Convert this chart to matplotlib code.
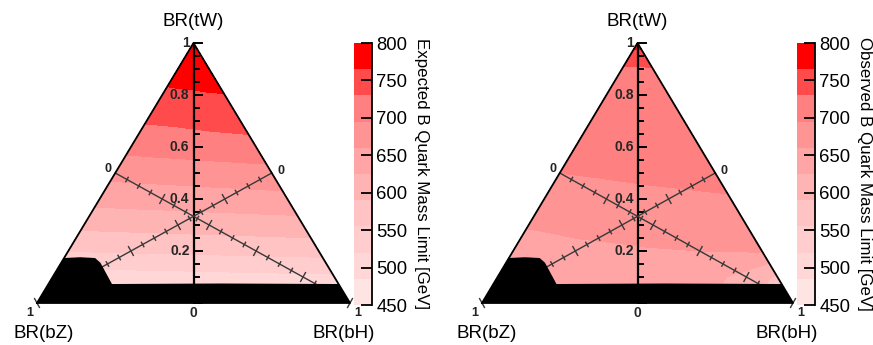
import numpy as np
import matplotlib
matplotlib.use("Agg")
import matplotlib.pyplot as plt
from matplotlib.tri import Triangulation

plt.rcParams["font.family"] = ["Liberation Sans", "DejaVu Sans"]

# ==== Limit tables (GeV) ====
# rows follow BR(tW); columns give the share of the rest that goes to bH
TW_ROWS = [0.0, 0.1, 0.2, 0.3, 0.4, 0.5, 0.6, 0.7, 0.8, 0.9, 1.0]
BH_SHARE = [0.0, 0.25, 0.5, 0.75, 1.0]

EXPECTED_LIMIT = [
    [452, 454, 456, 458, 460],
    [502, 505, 508, 511, 514],
    [556, 559, 562, 565, 568],
    [599, 602, 605, 608, 611],
    [637, 640, 643, 646, 649],
    [671, 674, 677, 680, 683],
    [706, 709, 712, 715, 718],
    [733, 735, 738, 741, 743],
    [758, 760, 761, 763, 764],
    [780, 780, 781, 782, 782],
    [800],
]
OBSERVED_LIMIT = [
    [628, 630, 632, 620, 560],
    [638, 641, 645, 640, 585],
    [648, 653, 657, 660, 661],
    [662, 668, 672, 677, 681],
    [682, 686, 689, 691, 693],
    [695, 697, 699, 701, 703],
    [702, 705, 706, 708, 710],
    [709, 711, 712, 714, 716],
    [716, 717, 718, 719, 721],
    [724, 725, 725, 726, 727],
    [778],
]

LIMIT_LEVELS = [450, 485, 520, 555, 590, 625, 660, 695, 730, 765, 800]
BAND_COLORS = ["#ffe4e4", "#ffd7d7", "#ffcdcd", "#ffc3c3", "#ffb4b4",
               "#ffa5a5", "#ff9494", "#ff8080", "#ff4b4b", "#ff0000"]
CBAR_TICKS = [450, 500, 550, 600, 650, 700, 750, 800]
TW_LABELS = [0.2, 0.4, 0.6, 0.8]

# region without a limit, as (BR(tW), BR(bH)) outline
EXCL_TW = [0.0, 0.173, 0.176, 0.173, 0.155, 0.073, 0.075, 0.073, 0.0]
EXCL_BH = [0.0, 0.0, 0.05, 0.099, 0.125, 0.203, 0.55, 0.927, 1.0]

FIG_W, FIG_H = 873, 345


def tern_xy(tw, bh):
    tw = np.asarray(tw, dtype=float)
    bh = np.asarray(bh, dtype=float)
    return bh - (1 - tw) / 2, tw


def limit_points(table):
    xs, ys, zs = [], [], []
    for tw, row in zip(TW_ROWS, table):
        shares = BH_SHARE if len(row) > 1 else [0.5]
        for s, v in zip(shares, row):
            x, y = tern_xy(tw, s * (1 - tw))
            xs.append(float(x))
            ys.append(float(y))
            zs.append(v)
    return np.array(xs), np.array(ys), np.array(zs)


def draw_median(ax, start, end, zero_off, one_off, sx, sy):
    (x0, y0), (x1, y1) = start, end
    dx, dy = (x1 - x0) * sx, (y1 - y0) * sy
    n = np.hypot(dx, dy)
    nx, ny = -dy / n, dx / n
    ax.plot([x0, x1], [y0, y1], color="#383838", lw=1.0, zorder=2)
    for k in range(1, 21):
        t = k / 20
        px, py = x0 + t * (x1 - x0), y0 + t * (y1 - y0)
        h = 5 if k % 4 == 0 else 2.5
        ax.plot([px - nx * h / sx, px + nx * h / sx],
                [py - ny * h / sy, py + ny * h / sy],
                color="#383838", lw=1.0, zorder=2, clip_on=False)
    lab = dict(fontsize=9, fontweight="bold", color="#222222",
               ha="center", va="center", zorder=5)
    ax.text(x0 + zero_off[0] / sx, y0 + zero_off[1] / sy, "0", **lab)
    ax.text(x1 + one_off[0] / sx, y1 + one_off[1] / sy, "1", **lab)


def draw_ternary(ax, table, sx, sy, label_dx):
    ax.set_xlim(-0.5, 0.5)
    ax.set_ylim(0, 1)
    ax.axis("off")

    x, y, z = limit_points(table)
    ax.tricontourf(Triangulation(x, y), z, levels=LIMIT_LEVELS,
                   colors=BAND_COLORS, zorder=1)

    # BR(tW) axis up the middle
    ax.plot([0, 0], [0, 1], color="black", lw=1.6, zorder=2)
    for k in range(21):
        t = k / 20
        ln = (8 if k % 4 == 0 else 5) / sx
        ax.plot([0, ln], [t, t], color="black", lw=1.4, zorder=2,
                clip_on=False)
    lab = dict(fontsize=10, fontweight="bold", color="#262626",
               va="center", zorder=5)
    for t in TW_LABELS:
        ax.text(-4 / sx, t, f"{t:.1f}", ha="right", **lab)
    ax.text(-4 / sx, 1.0, "1", ha="right", **lab)
    ax.text(0, -10 / sy, "0", ha="center", **lab)

    # BR(bH) and BR(bZ) axes along the other medians
    draw_median(ax, (-0.25, 0.5), (0.5, 0.0), (-7, 4), (8, -10), sx, sy)
    draw_median(ax, (0.25, 0.5), (-0.5, 0.0), (9, 2), (-7, -10), sx, sy)

    ex, ey = tern_xy(EXCL_TW, EXCL_BH)
    ax.fill(ex, ey, color="black", lw=0, zorder=3)

    ax.plot([-0.5, 0, 0.5, -0.5], [0, 1, 0, 0], color="black", lw=1.3,
            zorder=4, clip_on=False)

    name = dict(fontsize=13.5, ha="center", va="center", color="black")
    ax.text(0, 1 + 21 / sy, "BR(tW)", **name)
    ax.text(-0.5 + label_dx[0] / sx, -30 / sy, "BR(bZ)", **name)
    ax.text(0.5 + label_dx[1] / sx, -30 / sy, "BR(bH)", **name)


def draw_colorbar(cax, title):
    for lo, hi, c in zip(LIMIT_LEVELS[:-1], LIMIT_LEVELS[1:], BAND_COLORS):
        cax.axhspan(lo, hi, color=c, lw=0)
    cax.set_xlim(0, 1)
    cax.set_ylim(LIMIT_LEVELS[0], LIMIT_LEVELS[-1])
    for side in ("left", "top", "bottom"):
        cax.spines[side].set_visible(False)
    cax.spines["right"].set_linewidth(1.3)
    cax.set_xticks([])
    cax.yaxis.tick_right()
    cax.set_yticks(CBAR_TICKS)
    cax.tick_params(axis="y", direction="in", length=8, width=1.3, pad=3,
                    labelsize=13.3)
    cax.text(3.75, 0.5, title, rotation=270, transform=cax.transAxes,
             ha="center", va="center", fontsize=12.2)


fig = plt.figure(figsize=(FIG_W / 100, FIG_H / 100), dpi=100)

ax_exp = fig.add_axes([37 / FIG_W, 42 / FIG_H, 313 / FIG_W, 260 / FIG_H])
draw_ternary(ax_exp, EXPECTED_LIMIT, 313, 260, (7, -6))
cax_exp = fig.add_axes([354 / FIG_W, 40 / FIG_H, 18 / FIG_W, 262 / FIG_H])
draw_colorbar(cax_exp, "Expected B Quark Mass Limit [GeV]")

ax_obs = fig.add_axes([482 / FIG_W, 42 / FIG_H, 311 / FIG_W, 260 / FIG_H])
draw_ternary(ax_obs, OBSERVED_LIMIT, 311, 260, (5, -6))
cax_obs = fig.add_axes([797 / FIG_W, 40 / FIG_H, 18 / FIG_W, 262 / FIG_H])
draw_colorbar(cax_obs, "Observed B Quark Mass Limit [GeV]")

fig.savefig("out.png", dpi=100)
